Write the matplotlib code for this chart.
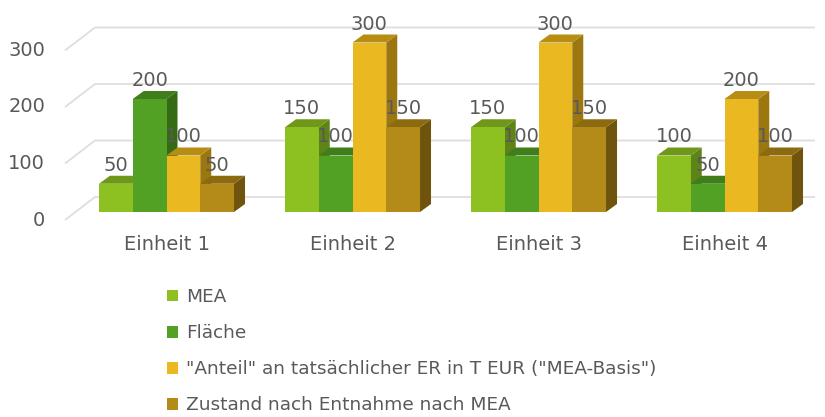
import matplotlib
matplotlib.use("Agg")
import matplotlib.pyplot as plt
from matplotlib.patches import Polygon, Patch

# Daten
kategorien = ["Einheit 1", "Einheit 2", "Einheit 3", "Einheit 4"]
serien = ["MEA", "Fläche", '"Anteil" an tatsächlicher ER in T EUR ("MEA-Basis")',
          "Zustand nach Entnahme nach MEA"]
mea = [50, 150, 150, 100]
flaeche = [200, 100, 100, 50]
anteil = [100, 300, 300, 200]
zustand = [50, 150, 150, 100]
y_ticks = [0, 100, 200, 300]

werte = [mea, flaeche, anteil, zustand]
farbe_front = ["#8DC021", "#52A024", "#EAB820", "#B48A18"]
farbe_top = ["#6F981B", "#3F7E1A", "#B88D14", "#8C6B10"]
farbe_side = ["#5E8418", "#356B15", "#9C770F", "#6E540C"]
text_farbe = "#595959"
fs = 14

W, H = 825, 417
fig = plt.figure(figsize=(W / 100, H / 100), dpi=100)
ax = fig.add_axes([0, 0, 1, 1])

# Pixel -> Datenkoordinaten
PX_X = 1 / 186.0          # Abstand der Kategorien = 186 px
PX_Y = 100 / 56.5         # 100 Einheiten = 56.5 px
x0_px, base_px = 166.5, 212
ax.set_xlim(-x0_px * PX_X, (W - x0_px) * PX_X)
ax.set_ylim(-(H - base_px) * PX_Y, base_px * PX_Y)
ax.axis("off")

# 3D-Verschiebungen
dx_bar, dy_bar = 11 * PX_X, 8 * PX_Y
front_shift = -8 * PX_Y
wall_dx, wall_dy = 30 * PX_X, 23 * PX_Y
front_x = (65 - x0_px) * PX_X
right_x = (815 - x0_px) * PX_X

# Gitterlinien (Boden + Rückwand)
for t in y_ticks:
    yf = t + front_shift
    ax.plot([front_x, front_x + wall_dx, right_x], [yf, yf + wall_dy, yf + wall_dy],
            color="#DEDEDE", lw=1.3, zorder=1, solid_capstyle="butt")
    ax.text((45 - x0_px) * PX_X, yf, str(t), ha="right", va="center",
            fontsize=fs, color=text_farbe)

gruppe = 0.726
bw = gruppe / 4
z = 2
for i, kat in enumerate(kategorien):
    for j, vals in enumerate(werte):
        v = vals[i]
        left = i - gruppe / 2 + j * bw
        right = left + bw
        # Seite
        ax.add_patch(Polygon([(right, 0), (right + dx_bar, dy_bar), (right + dx_bar, v + dy_bar),
                              (right, v)], closed=True, facecolor=farbe_side[j],
                             edgecolor="none", zorder=z))
        # Deckel
        ax.add_patch(Polygon([(left, v), (right, v), (right + dx_bar, v + dy_bar),
                              (left + dx_bar, v + dy_bar)], closed=True, facecolor=farbe_top[j],
                             edgecolor="none", zorder=z))
        # Front
        ax.bar(left, v, width=bw, align="edge", color=farbe_front[j], zorder=z + 0.5)
        ax.text(left + bw / 2, v + dy_bar + 1 * PX_Y, str(v), ha="center", va="bottom",
                fontsize=fs, color=text_farbe, zorder=20)
        z += 1
    ax.text(i, (base_px - 244) * PX_Y, kat, ha="center", va="center",
            fontsize=fs, color=text_farbe)

handles = [Patch(facecolor=c, edgecolor="none") for c in farbe_front]
leg = fig.legend(handles, serien, loc="upper left", bbox_to_anchor=(167 / W, 1 - 288 / H),
                 frameon=False, fontsize=13.3, handlelength=0.62, handleheight=0.62,
                 handletextpad=0.4, labelspacing=0.98, borderpad=0, borderaxespad=0)
for t in leg.get_texts():
    t.set_color(text_farbe)

fig.savefig("out.png", dpi=100)
